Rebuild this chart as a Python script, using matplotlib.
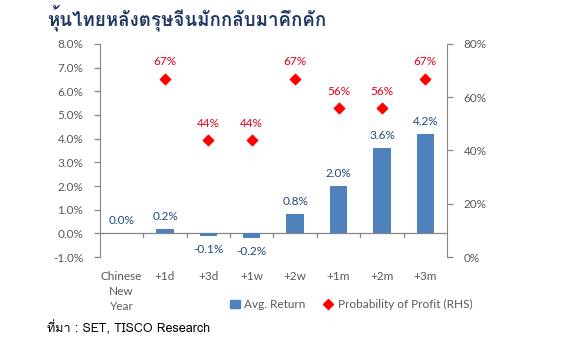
import matplotlib
matplotlib.use("Agg")
import matplotlib.pyplot as plt
from matplotlib import font_manager
from matplotlib.ft2font import FT2Font
from matplotlib.lines import Line2D
from matplotlib.patches import Patch

# ข้อมูล
categories = ["Chinese\nNew\nYear", "+1d", "+3d", "+1w", "+2w", "+1m", "+2m", "+3m"]
avg_return = [0.0, 0.2, -0.1, -0.2, 0.8, 2.0, 3.6, 4.2]     # %
prob_profit = [None, 67, 44, 44, 67, 56, 56, 67]             # % (RHS)
left_ticks = [-1, 0, 1, 2, 3, 4, 5, 6, 7, 8]
right_ticks = [0, 20, 40, 60, 80]


def font_with(ch, default="DejaVu Sans"):
    # หาฟอนต์ที่มีตัวอักษรไทย
    for f in font_manager.fontManager.ttflist:
        try:
            if ord(ch) in FT2Font(f.fname).get_charmap():
                return f.name
        except Exception:
            pass
    return default


thai = font_with("ห")
plt.rcParams["font.family"] = ["Lato", thai, "DejaVu Sans"]

blue = "#4F81BD"
red = "#FF0000"
grey = "#868686"
txt = "#595959"

fig = plt.figure(figsize=(5.74, 3.5), dpi=100)
ax = fig.add_axes([0.1742, 0.2657, 0.6045, 0.6086])
ax2 = ax.twinx()

x = list(range(len(categories)))
ax.bar(x, avg_return, width=0.4, color=blue, zorder=2)
ax.axhline(0, color=grey, lw=0.9, zorder=1)

# ขีดแบ่งกลุ่มใต้แกน 0
for b in [i + 0.5 for i in range(len(categories) - 1)]:
    ax.plot([b, b], [0, -0.17], color=grey, lw=0.9, zorder=1)

for xi, v in zip(x, avg_return):
    if v >= 0:
        ax.annotate(f"{v:.1f}%", (xi, v), xytext=(0, 5), textcoords="offset points",
                    ha="center", va="bottom", color="#1F497D", fontsize=8.5)
    else:
        ax.annotate(f"{v:.1f}%", (xi, v), xytext=(0, -6), textcoords="offset points",
                    ha="center", va="top", color="#1F497D", fontsize=8.5)

px = [xi for xi, p in zip(x, prob_profit) if p is not None]
py = [p for p in prob_profit if p is not None]
ax2.scatter(px, py, marker="D", s=28, color=red, zorder=3)
for xi, p in zip(px, py):
    ax2.annotate(f"{p}%", (xi, p), xytext=(0, 8), textcoords="offset points",
                 ha="center", va="bottom", color="#E0001B", fontsize=8.5)

ax.set_xlim(-0.5, len(categories) - 0.5)
ax.set_ylim(-1, 8)
ax2.set_ylim(0, 80)

ax.set_yticks(left_ticks)
ax.set_yticklabels([f"{t:.1f}%" for t in left_ticks])
ax2.set_yticks(right_ticks)
ax2.set_yticklabels([f"{t}%" for t in right_ticks])
ax.set_xticks(x)
ax.set_xticklabels(categories, linespacing=1.45)

for a in (ax, ax2):
    for s in ("top", "bottom"):
        a.spines[s].set_visible(False)
    a.spines["left"].set_color(grey)
    a.spines["right"].set_color(grey)
    a.tick_params(axis="y", colors=grey, labelcolor=txt, labelsize=8.5, length=4, width=0.9)
ax.spines["right"].set_visible(False)
ax2.spines["left"].set_visible(False)
ax.tick_params(axis="x", length=0, labelsize=8.5, labelcolor=txt, pad=10)
ax.tick_params(axis="y", pad=8)
ax2.tick_params(axis="y", pad=8)

handles = [Patch(color=blue), Line2D([], [], marker="D", color=red, ls="none", markersize=5)]
fig.legend(handles, ["Avg. Return", "Probability of Profit (RHS)"], loc="center",
           bbox_to_anchor=(0.612, 0.129), ncol=2, frameon=False, fontsize=8.5,
           handlelength=0.8, handletextpad=0.4, columnspacing=1.5, labelcolor=txt)

fig.text(0.082, 0.95, "หุ้นไทยหลังตรุษจีนมักกลับมาคึกคัก", family=[thai, "DejaVu Sans"],
         fontsize=13.5, fontweight="bold", color="#1F3864", va="center")
fig.text(0.082, 0.063, "ที่มา : SET, TISCO Research", family=[thai, "DejaVu Sans"],
         fontsize=9, color="black", va="center")

fig.savefig("out.png", dpi=100)
